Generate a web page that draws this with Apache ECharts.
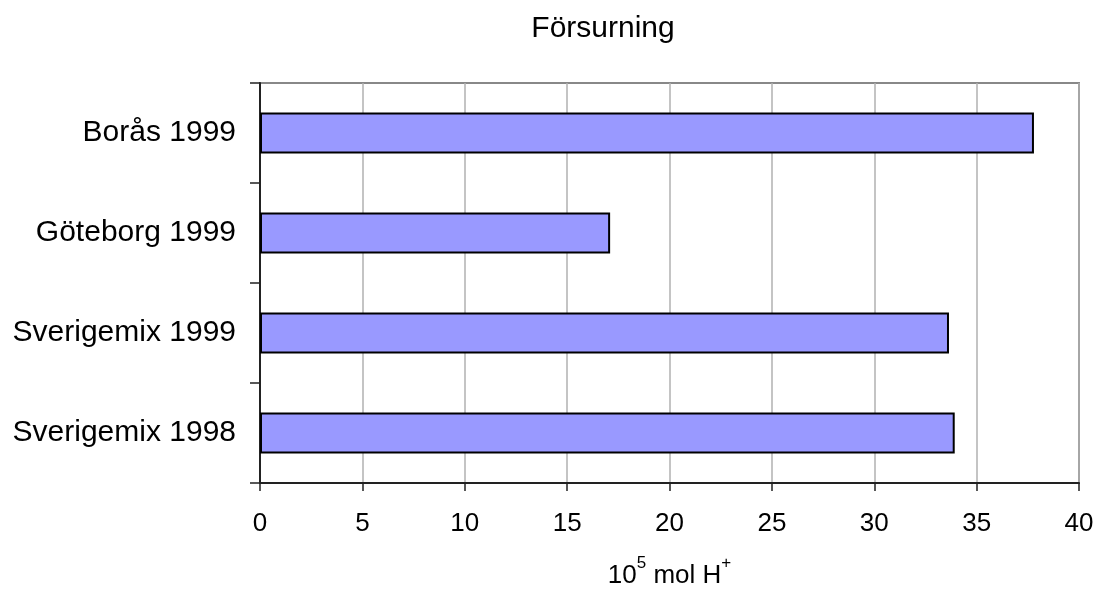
<!DOCTYPE html>
<html><head><meta charset="utf-8">
<script src="https://cdn.jsdelivr.net/npm/echarts@6/dist/echarts.min.js"></script>
<style>html,body{margin:0;padding:0;background:#fff}#c{width:1097px;height:594px}</style>
</head><body><div id="c"></div>
<script>
const categories = ['Borås 1999', 'Göteborg 1999', 'Sverigemix 1999', 'Sverigemix 1998'];
const values = [37.8, 17.1, 33.65, 33.93];
const xTicks = {min: 0, max: 40, interval: 5};
const title = 'Försurning';

const chart = echarts.init(document.getElementById('c'), null, {renderer: 'canvas'});
const font = 'Liberation Sans, Arial, sans-serif';
chart.setOption({
  animation: false,
  backgroundColor: '#fff',
  title: {text: title, left: 598, textAlign: 'center', top: 9,
    textStyle: {fontFamily: font, fontSize: 30, fontWeight: 'normal', color: '#000'}},
  grid: {left: 260, right: 18, top: 83, bottom: 105, show: true, borderColor: '#888', borderWidth: 2},
  xAxis: {
    type: 'value', min: xTicks.min, max: xTicks.max, interval: xTicks.interval,
    name: '{a|10}{s|5}{a| mol H}{s|+}', nameLocation: 'middle', nameGap: 72,
    nameTextStyle: {rich: {
      a: {fontFamily: font, fontSize: 26, color: '#000', verticalAlign: 'bottom', lineHeight: 34},
      s: {fontFamily: font, fontSize: 17, color: '#000', verticalAlign: 'top', lineHeight: 34, padding: [0,0,16,0]}
    }},
    axisLine: {show: true, lineStyle: {color: '#222', width: 2}},
    axisTick: {show: true, length: 8, lineStyle: {color: '#222', width: 1.5}},
    axisLabel: {fontFamily: font, fontSize: 26, color: '#000', margin: 28},
    splitLine: {show: true, lineStyle: {color: '#b0b0b0', width: 1.5}}
  },
  yAxis: {
    type: 'category', data: categories, inverse: true,
    axisLine: {show: true, lineStyle: {color: '#222', width: 2}},
    axisTick: {show: true, length: 10, alignWithLabel: false, lineStyle: {color: '#222', width: 1.5}},
    axisLabel: {fontFamily: font, fontSize: 30, color: '#000', margin: 24}
  },
  series: [{
    type: 'bar', data: values, barWidth: 41,
    itemStyle: {color: '#9999ff', borderColor: '#000', borderWidth: 2}
  }]
});
</script></body></html>
